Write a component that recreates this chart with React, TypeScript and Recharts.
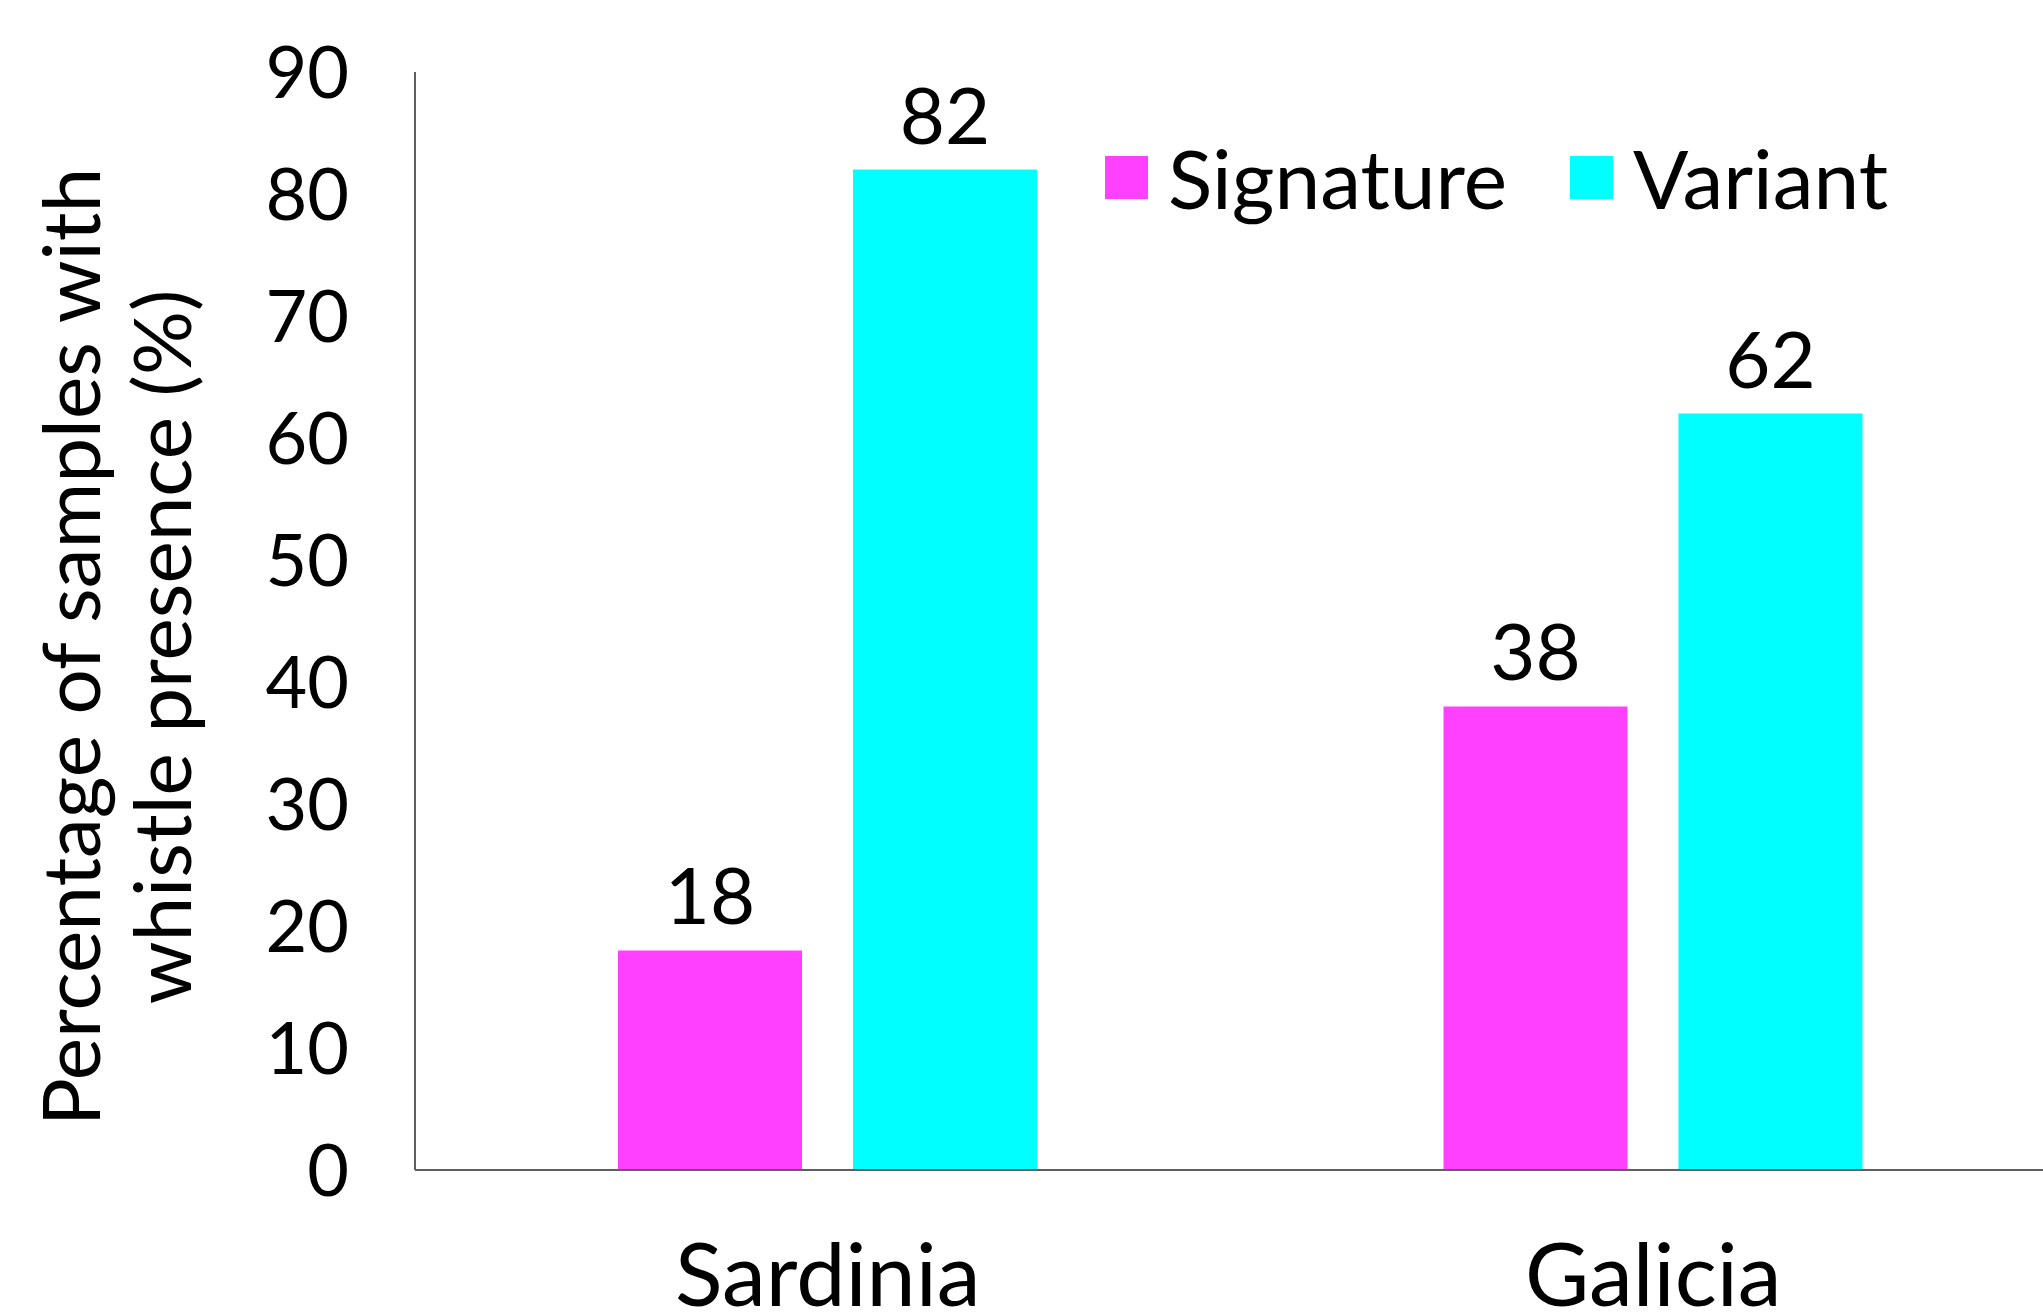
import { BarChart, Bar, XAxis, YAxis, LabelList, Legend } from "recharts";

const regions = ["Sardinia", "Galicia"];
const signature = [18, 38];
const variant = [82, 62];
const yTicks = [0, 10, 20, 30, 40, 50, 60, 70, 80, 90];

const SIG_COLOR = "#ff40ff";
const VAR_COLOR = "#00ffff";
const FONT = "Lato, 'Noto Sans', sans-serif";

const data = regions.map((region, i) => ({
  region,
  signature: signature[i],
  variant: variant[i],
}));

function YTitle({ viewBox }: { viewBox?: { x: number; y: number; width: number; height: number } }) {
  if (!viewBox) return null;
  const cy = viewBox.y + viewBox.height / 2 + 26;
  return (
    <g fontFamily={FONT} fontSize={80} fill="#000">
      <text transform={`translate(100, ${cy}) rotate(-90)`} textAnchor="middle">
        Percentage of samples with
      </text>
      <text transform={`translate(191, ${cy}) rotate(-90)`} textAnchor="middle">
        whistle presence (%)
      </text>
    </g>
  );
}

function LegendBox() {
  const items = [
    { name: "Signature", color: SIG_COLOR },
    { name: "Variant", color: VAR_COLOR },
  ];
  return (
    <div style={{ display: "flex", fontFamily: FONT, fontSize: 82, color: "#000" }}>
      {items.map((it) => (
        <div key={it.name} style={{ display: "flex", alignItems: "center", width: 465, height: 90 }}>
          <span style={{ width: 43, height: 43, background: it.color, marginRight: 20, flex: "none" }} />
          <span style={{ lineHeight: "90px" }}>{it.name}</span>
        </div>
      ))}
    </div>
  );
}

export default function App() {
  return (
    <div
      style={{
        position: "absolute",
        left: 0,
        top: 0,
        width: 2043,
        height: 1313,
        overflow: "hidden",
        background: "#fff",
      }}
    >
      <BarChart
        width={2080}
        height={1313}
        data={data}
        margin={{ top: 72, right: 14, left: 0, bottom: 0 }}
        barSize={184}
        barGap={51}
      >
        <XAxis
          dataKey="region"
          height={143}
          axisLine={{ stroke: "#5f5f5f", strokeWidth: 2 }}
          tickLine={false}
          tickSize={0}
          tickMargin={74}
          tick={{ fill: "#000", fontSize: 88, fontFamily: FONT }}
        />
        <YAxis
          width={415}
          domain={[0, 90]}
          ticks={yTicks}
          interval={0}
          axisLine={{ stroke: "#5f5f5f", strokeWidth: 2 }}
          tickLine={false}
          tickSize={0}
          tickMargin={66}
          tick={{ fill: "#000", fontSize: 72, fontFamily: FONT }}
          label={{ content: (props: any) => <YTitle viewBox={props.viewBox} /> }}
        />
        <Legend
          layout="horizontal"
          verticalAlign="middle"
          align="center"
          content={() => <LegendBox />}
          wrapperStyle={{ position: "absolute", top: 132, left: 1105, width: 940, height: 90 }}
        />
        <Bar dataKey="signature" name="Signature" fill={SIG_COLOR} isAnimationActive={false}>
          <LabelList
            dataKey="signature"
            position="top"
            offset={26}
            fill="#000"
            fontSize={78}
            fontFamily={FONT}
          />
        </Bar>
        <Bar dataKey="variant" name="Variant" fill={VAR_COLOR} isAnimationActive={false}>
          <LabelList
            dataKey="variant"
            position="top"
            offset={26}
            fill="#000"
            fontSize={78}
            fontFamily={FONT}
          />
        </Bar>
      </BarChart>
    </div>
  );
}
